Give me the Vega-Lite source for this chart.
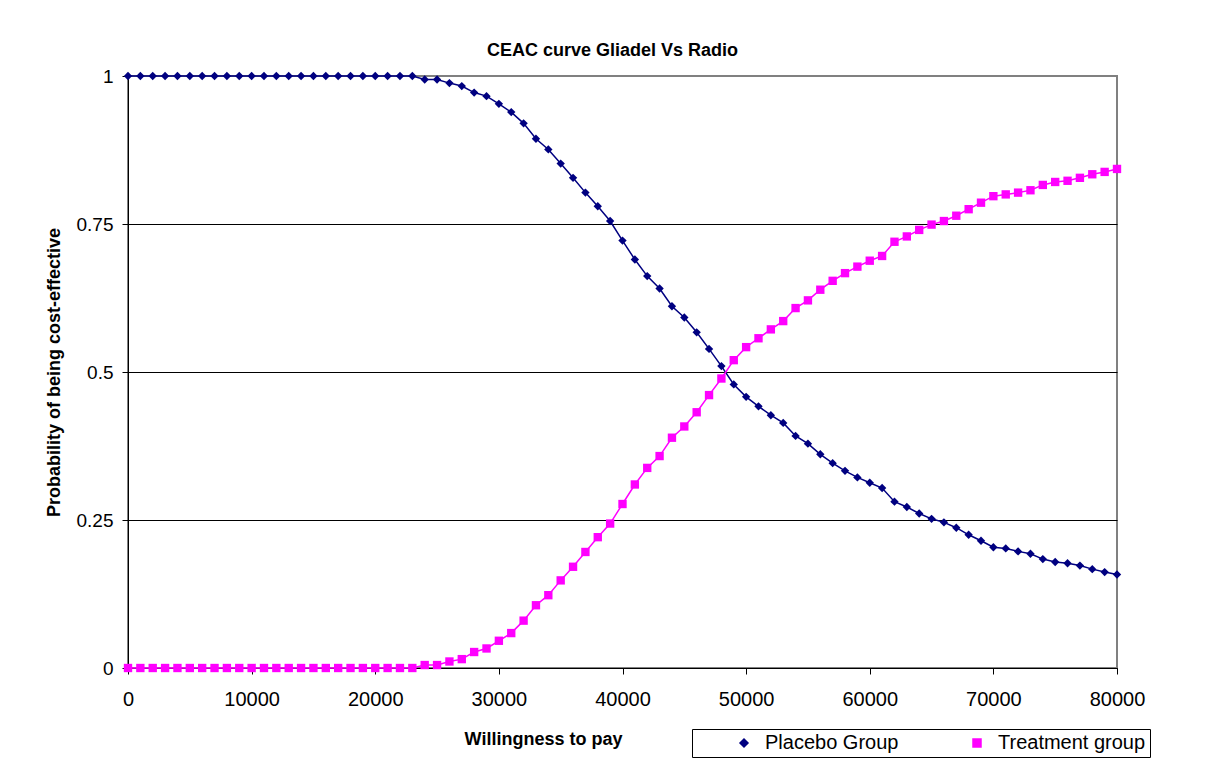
{
  "$schema": "https://vega.github.io/schema/vega-lite/v6.json",
  "width": 989,
  "height": 592,
  "autosize": {"type": "none"},
  "padding": {"left": 128, "top": 76, "right": 106, "bottom": 116},
  "background": "white",
  "title": {
    "text": "CEAC curve Gliadel Vs Radio",
    "font": "Liberation Sans",
    "fontSize": 18,
    "fontWeight": "bold",
    "color": "black",
    "anchor": "middle",
    "frame": "group",
    "baseline": "alphabetic",
    "offset": 21,
    "dx": -10,
    "dy": 28
  },
  "config": {
    "font": "Liberation Sans",
    "view": {"stroke": "#808080", "strokeWidth": 2},
    "axis": {"labelFont": "Liberation Sans", "titleFont": "Liberation Sans", "labelColor": "black", "titleColor": "black", "domainColor": "black", "tickColor": "black", "domainWidth": 1, "tickWidth": 1}
  },
  "data": {"values": [
    {"wtp": 0, "series": "Placebo Group", "p": 1},
    {"wtp": 1000, "series": "Placebo Group", "p": 1},
    {"wtp": 2000, "series": "Placebo Group", "p": 1},
    {"wtp": 3000, "series": "Placebo Group", "p": 1},
    {"wtp": 4000, "series": "Placebo Group", "p": 1},
    {"wtp": 5000, "series": "Placebo Group", "p": 1},
    {"wtp": 6000, "series": "Placebo Group", "p": 1},
    {"wtp": 7000, "series": "Placebo Group", "p": 1},
    {"wtp": 8000, "series": "Placebo Group", "p": 1},
    {"wtp": 9000, "series": "Placebo Group", "p": 1},
    {"wtp": 10000, "series": "Placebo Group", "p": 1},
    {"wtp": 11000, "series": "Placebo Group", "p": 1},
    {"wtp": 12000, "series": "Placebo Group", "p": 1},
    {"wtp": 13000, "series": "Placebo Group", "p": 1},
    {"wtp": 14000, "series": "Placebo Group", "p": 1},
    {"wtp": 15000, "series": "Placebo Group", "p": 1},
    {"wtp": 16000, "series": "Placebo Group", "p": 1},
    {"wtp": 17000, "series": "Placebo Group", "p": 1},
    {"wtp": 18000, "series": "Placebo Group", "p": 1},
    {"wtp": 19000, "series": "Placebo Group", "p": 1},
    {"wtp": 20000, "series": "Placebo Group", "p": 1},
    {"wtp": 21000, "series": "Placebo Group", "p": 1},
    {"wtp": 22000, "series": "Placebo Group", "p": 1},
    {"wtp": 23000, "series": "Placebo Group", "p": 1},
    {"wtp": 24000, "series": "Placebo Group", "p": 0.994},
    {"wtp": 25000, "series": "Placebo Group", "p": 0.994},
    {"wtp": 26000, "series": "Placebo Group", "p": 0.988},
    {"wtp": 27000, "series": "Placebo Group", "p": 0.983},
    {"wtp": 28000, "series": "Placebo Group", "p": 0.972},
    {"wtp": 29000, "series": "Placebo Group", "p": 0.966},
    {"wtp": 30000, "series": "Placebo Group", "p": 0.953},
    {"wtp": 31000, "series": "Placebo Group", "p": 0.939},
    {"wtp": 32000, "series": "Placebo Group", "p": 0.92},
    {"wtp": 33000, "series": "Placebo Group", "p": 0.894},
    {"wtp": 34000, "series": "Placebo Group", "p": 0.876},
    {"wtp": 35000, "series": "Placebo Group", "p": 0.852},
    {"wtp": 36000, "series": "Placebo Group", "p": 0.828},
    {"wtp": 37000, "series": "Placebo Group", "p": 0.803},
    {"wtp": 38000, "series": "Placebo Group", "p": 0.78},
    {"wtp": 39000, "series": "Placebo Group", "p": 0.755},
    {"wtp": 40000, "series": "Placebo Group", "p": 0.722},
    {"wtp": 41000, "series": "Placebo Group", "p": 0.69},
    {"wtp": 42000, "series": "Placebo Group", "p": 0.662},
    {"wtp": 43000, "series": "Placebo Group", "p": 0.641},
    {"wtp": 44000, "series": "Placebo Group", "p": 0.611},
    {"wtp": 45000, "series": "Placebo Group", "p": 0.592},
    {"wtp": 46000, "series": "Placebo Group", "p": 0.567},
    {"wtp": 47000, "series": "Placebo Group", "p": 0.539},
    {"wtp": 48000, "series": "Placebo Group", "p": 0.51},
    {"wtp": 49000, "series": "Placebo Group", "p": 0.479},
    {"wtp": 50000, "series": "Placebo Group", "p": 0.458},
    {"wtp": 51000, "series": "Placebo Group", "p": 0.442},
    {"wtp": 52000, "series": "Placebo Group", "p": 0.427},
    {"wtp": 53000, "series": "Placebo Group", "p": 0.414},
    {"wtp": 54000, "series": "Placebo Group", "p": 0.392},
    {"wtp": 55000, "series": "Placebo Group", "p": 0.379},
    {"wtp": 56000, "series": "Placebo Group", "p": 0.361},
    {"wtp": 57000, "series": "Placebo Group", "p": 0.346},
    {"wtp": 58000, "series": "Placebo Group", "p": 0.333},
    {"wtp": 59000, "series": "Placebo Group", "p": 0.322},
    {"wtp": 60000, "series": "Placebo Group", "p": 0.313},
    {"wtp": 61000, "series": "Placebo Group", "p": 0.304},
    {"wtp": 62000, "series": "Placebo Group", "p": 0.281},
    {"wtp": 63000, "series": "Placebo Group", "p": 0.272},
    {"wtp": 64000, "series": "Placebo Group", "p": 0.261},
    {"wtp": 65000, "series": "Placebo Group", "p": 0.252},
    {"wtp": 66000, "series": "Placebo Group", "p": 0.246},
    {"wtp": 67000, "series": "Placebo Group", "p": 0.237},
    {"wtp": 68000, "series": "Placebo Group", "p": 0.225},
    {"wtp": 69000, "series": "Placebo Group", "p": 0.215},
    {"wtp": 70000, "series": "Placebo Group", "p": 0.204},
    {"wtp": 71000, "series": "Placebo Group", "p": 0.202},
    {"wtp": 72000, "series": "Placebo Group", "p": 0.197},
    {"wtp": 73000, "series": "Placebo Group", "p": 0.193},
    {"wtp": 74000, "series": "Placebo Group", "p": 0.184},
    {"wtp": 75000, "series": "Placebo Group", "p": 0.179},
    {"wtp": 76000, "series": "Placebo Group", "p": 0.177},
    {"wtp": 77000, "series": "Placebo Group", "p": 0.173},
    {"wtp": 78000, "series": "Placebo Group", "p": 0.167},
    {"wtp": 79000, "series": "Placebo Group", "p": 0.162},
    {"wtp": 80000, "series": "Placebo Group", "p": 0.158},
    {"wtp": 0, "series": "Treatment group", "p": 0},
    {"wtp": 1000, "series": "Treatment group", "p": 0},
    {"wtp": 2000, "series": "Treatment group", "p": 0},
    {"wtp": 3000, "series": "Treatment group", "p": 0},
    {"wtp": 4000, "series": "Treatment group", "p": 0},
    {"wtp": 5000, "series": "Treatment group", "p": 0},
    {"wtp": 6000, "series": "Treatment group", "p": 0},
    {"wtp": 7000, "series": "Treatment group", "p": 0},
    {"wtp": 8000, "series": "Treatment group", "p": 0},
    {"wtp": 9000, "series": "Treatment group", "p": 0},
    {"wtp": 10000, "series": "Treatment group", "p": 0},
    {"wtp": 11000, "series": "Treatment group", "p": 0},
    {"wtp": 12000, "series": "Treatment group", "p": 0},
    {"wtp": 13000, "series": "Treatment group", "p": 0},
    {"wtp": 14000, "series": "Treatment group", "p": 0},
    {"wtp": 15000, "series": "Treatment group", "p": 0},
    {"wtp": 16000, "series": "Treatment group", "p": 0},
    {"wtp": 17000, "series": "Treatment group", "p": 0},
    {"wtp": 18000, "series": "Treatment group", "p": 0},
    {"wtp": 19000, "series": "Treatment group", "p": 0},
    {"wtp": 20000, "series": "Treatment group", "p": 0},
    {"wtp": 21000, "series": "Treatment group", "p": 0},
    {"wtp": 22000, "series": "Treatment group", "p": 0},
    {"wtp": 23000, "series": "Treatment group", "p": 0},
    {"wtp": 24000, "series": "Treatment group", "p": 0.005},
    {"wtp": 25000, "series": "Treatment group", "p": 0.005},
    {"wtp": 26000, "series": "Treatment group", "p": 0.011},
    {"wtp": 27000, "series": "Treatment group", "p": 0.015},
    {"wtp": 28000, "series": "Treatment group", "p": 0.027},
    {"wtp": 29000, "series": "Treatment group", "p": 0.033},
    {"wtp": 30000, "series": "Treatment group", "p": 0.046},
    {"wtp": 31000, "series": "Treatment group", "p": 0.059},
    {"wtp": 32000, "series": "Treatment group", "p": 0.08},
    {"wtp": 33000, "series": "Treatment group", "p": 0.106},
    {"wtp": 34000, "series": "Treatment group", "p": 0.123},
    {"wtp": 35000, "series": "Treatment group", "p": 0.148},
    {"wtp": 36000, "series": "Treatment group", "p": 0.171},
    {"wtp": 37000, "series": "Treatment group", "p": 0.196},
    {"wtp": 38000, "series": "Treatment group", "p": 0.221},
    {"wtp": 39000, "series": "Treatment group", "p": 0.244},
    {"wtp": 40000, "series": "Treatment group", "p": 0.277},
    {"wtp": 41000, "series": "Treatment group", "p": 0.31},
    {"wtp": 42000, "series": "Treatment group", "p": 0.338},
    {"wtp": 43000, "series": "Treatment group", "p": 0.358},
    {"wtp": 44000, "series": "Treatment group", "p": 0.389},
    {"wtp": 45000, "series": "Treatment group", "p": 0.408},
    {"wtp": 46000, "series": "Treatment group", "p": 0.432},
    {"wtp": 47000, "series": "Treatment group", "p": 0.461},
    {"wtp": 48000, "series": "Treatment group", "p": 0.489},
    {"wtp": 49000, "series": "Treatment group", "p": 0.52},
    {"wtp": 50000, "series": "Treatment group", "p": 0.542},
    {"wtp": 51000, "series": "Treatment group", "p": 0.557},
    {"wtp": 52000, "series": "Treatment group", "p": 0.572},
    {"wtp": 53000, "series": "Treatment group", "p": 0.586},
    {"wtp": 54000, "series": "Treatment group", "p": 0.608},
    {"wtp": 55000, "series": "Treatment group", "p": 0.621},
    {"wtp": 56000, "series": "Treatment group", "p": 0.639},
    {"wtp": 57000, "series": "Treatment group", "p": 0.654},
    {"wtp": 58000, "series": "Treatment group", "p": 0.667},
    {"wtp": 59000, "series": "Treatment group", "p": 0.678},
    {"wtp": 60000, "series": "Treatment group", "p": 0.688},
    {"wtp": 61000, "series": "Treatment group", "p": 0.696},
    {"wtp": 62000, "series": "Treatment group", "p": 0.72},
    {"wtp": 63000, "series": "Treatment group", "p": 0.729},
    {"wtp": 64000, "series": "Treatment group", "p": 0.74},
    {"wtp": 65000, "series": "Treatment group", "p": 0.749},
    {"wtp": 66000, "series": "Treatment group", "p": 0.755},
    {"wtp": 67000, "series": "Treatment group", "p": 0.764},
    {"wtp": 68000, "series": "Treatment group", "p": 0.775},
    {"wtp": 69000, "series": "Treatment group", "p": 0.786},
    {"wtp": 70000, "series": "Treatment group", "p": 0.797},
    {"wtp": 71000, "series": "Treatment group", "p": 0.8},
    {"wtp": 72000, "series": "Treatment group", "p": 0.803},
    {"wtp": 73000, "series": "Treatment group", "p": 0.807},
    {"wtp": 74000, "series": "Treatment group", "p": 0.816},
    {"wtp": 75000, "series": "Treatment group", "p": 0.821},
    {"wtp": 76000, "series": "Treatment group", "p": 0.823},
    {"wtp": 77000, "series": "Treatment group", "p": 0.828},
    {"wtp": 78000, "series": "Treatment group", "p": 0.834},
    {"wtp": 79000, "series": "Treatment group", "p": 0.838},
    {"wtp": 80000, "series": "Treatment group", "p": 0.843}
  ]},
  "encoding": {
    "x": {
      "field": "wtp", "type": "quantitative",
      "scale": {"domain": [0, 80000], "nice": false, "zero": false},
      "axis": {
        "title": "Willingness to pay",
        "titleFontSize": 18, "titleFontWeight": "bold",
        "titleX": 415, "titleY": 62, "titleBaseline": "top",
        "values": [0, 10000, 20000, 30000, 40000, 50000, 60000, 70000, 80000],
        "format": "d",
        "labelFontSize": 20, "labelPadding": 15, "tickSize": 6,
        "grid": false, "labelFlush": false, "labelOverlap": false
      }
    },
    "y": {
      "field": "p", "type": "quantitative",
      "scale": {"domain": [0, 1], "nice": false},
      "axis": {
        "title": "Probability of being cost-effective",
        "titleFontSize": 18, "titleFontWeight": "bold", "titlePadding": 13,
        "values": [0, 0.25, 0.5, 0.75, 1],
        "labelExpr": "'' + datum.value",
        "labelFontSize": 19, "labelPadding": 9, "tickSize": 6,
        "grid": true, "gridWidth": 1,
        "gridColor": {"condition": {"test": "datum.value === 1", "value": "#808080"}, "value": "black"},
        "labelFlush": false, "labelOverlap": false
      }
    },
    "color": {
      "field": "series", "type": "nominal",
      "scale": {"domain": ["Placebo Group", "Treatment group"], "range": ["#000080", "#FF00FF"]},
      "legend": {
        "title": null,
        "orient": "none",
        "legendX": 564,
        "legendY": 653,
        "direction": "horizontal",
        "columns": 2,
        "strokeColor": "black",
        "fillColor": "white",
        "padding": 4,
        "symbolSize": 64,
        "symbolOffset": 38,
        "labelOffset": 11,
        "columnPadding": 30,
        "labelFontSize": 20,
        "labelColor": "black",
        "labelFont": "Liberation Sans"
      }
    }
  },
  "layer": [
    {
      "mark": {"type": "line", "strokeWidth": 1.5, "clip": false}
    },
    {
      "mark": {"type": "point", "filled": true, "opacity": 1, "clip": false},
      "encoding": {
        "shape": {
          "field": "series", "type": "nominal",
          "scale": {"domain": ["Placebo Group", "Treatment group"], "range": ["diamond", "square"]},
          "legend": null
        },
        "size": {"value": 70}
      }
    }
  ]
}
